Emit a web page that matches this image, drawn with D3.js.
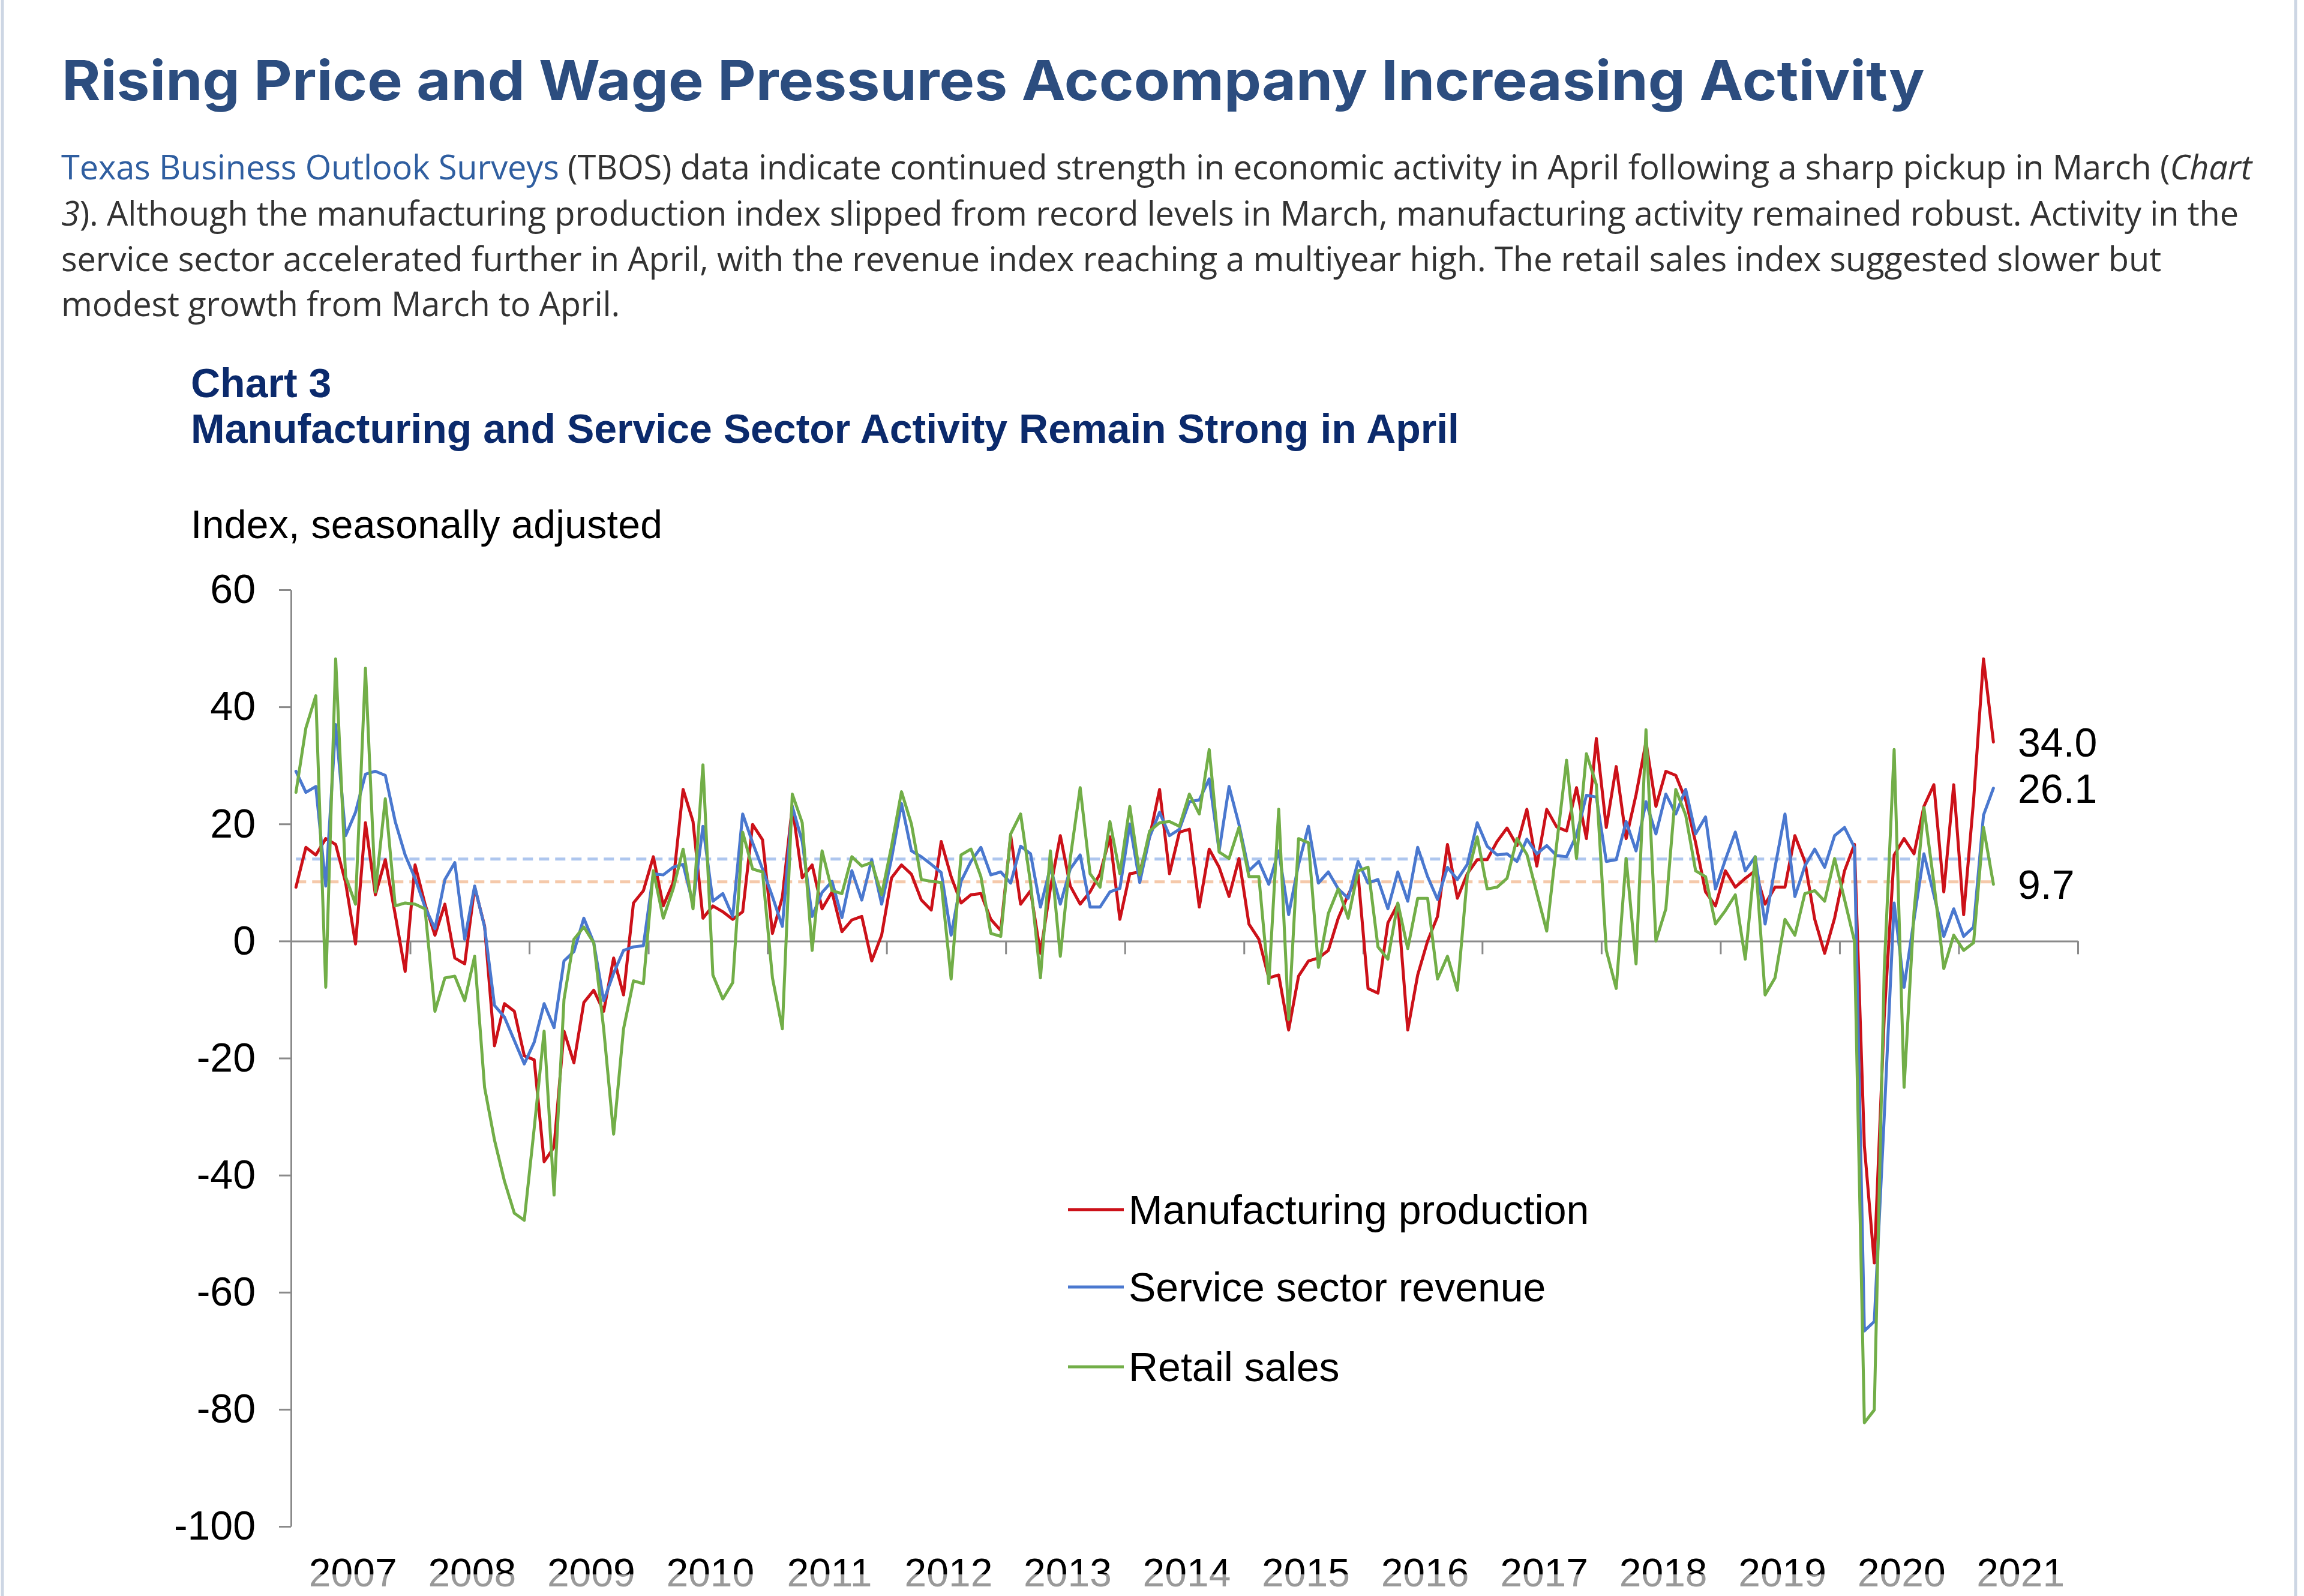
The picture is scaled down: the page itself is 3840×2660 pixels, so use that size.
<!DOCTYPE html>
<html><head><meta charset="utf-8">
<script src="https://cdn.jsdelivr.net/npm/d3@7"></script>
<style>html,body{margin:0;padding:0;background:#fff;} svg{display:block}</style>
</head><body>
<script>
// ---------- DATA ----------
const years = [2007,2008,2009,2010,2011,2012,2013,2014,2015,2016,2017,2018,2019,2020,2021];
const yTicks = [-100,-80,-60,-40,-20,0,20,40,60];
const seriesNames = ["Manufacturing production","Service sector revenue","Retail sales"];
const seriesColors = ["#cc1119","#4a78cf","#72ae48"];
// monthly values, Jan 2007 - Apr 2021
const manufacturing = [
9.2,16,14.7,17.5,16.5,10,-0.5,20.2,7.9,13.9,4.5,-5.2,
13,6.3,1,6.3,-2.9,-3.9,9.2,2.6,-17.9,-10.7,-12,-19.6,
-20.3,-37.7,-35.2,-15.4,-20.8,-10.5,-8.4,-12,-2.9,-9.2,6.5,8.6,
14.4,6,10,25.9,20.4,3.9,6,5,3.7,5,19.9,17.3,
1.3,7.5,23,10.8,13,5.5,8.4,1.6,3.6,4.2,-3.4,1,
10.8,13,11.4,7,5.3,17,11,6.5,7.9,8.1,3.7,1.8,
18,6.3,8.6,-2.1,9,18,9.4,6.3,8.4,11.5,17.8,3.7,
11.5,11.8,17.8,25.9,11.5,18.6,19.1,5.8,15.7,12.6,7.6,14.1,
2.9,0.3,-6.3,-5.8,-15.2,-6,-3.4,-2.9,-1.6,3.9,7.9,11.3,
-8.1,-8.9,3.1,6.3,-15.2,-5.8,0,4.2,16.5,7.3,11.5,13.9,
13.9,17,19.3,16.3,22.5,12.8,22.5,19.5,18.8,26.2,17.5,34.6,
19.4,29.8,17.5,25,34,23,29,28.3,24.1,16.8,8.4,6,
12,9.2,10.7,12,6.3,9.2,9.2,18,13.6,3.7,-2.1,3.9,
12,16.5,-35,-55,-13,14.7,17.5,14.9,23,26.7,8.4,26.7,
4.5,24,48.2,34.0
];
const service = [
29,25.4,26.4,9.4,37,18,22,28.5,29,28.3,20.4,14.7,
10.7,5.8,2.1,10.5,13.4,0.3,9.4,2.4,-11,-13,-17,-21,
-17.3,-10.7,-14.8,-3.4,-1.8,3.9,-0.3,-10.2,-5.5,-1.6,-1,-0.8,
11.5,11.3,12.6,13.1,6.3,19.6,6.8,8.1,4.2,21.7,16.8,12.3,
7.6,2.5,23,17,4.2,8.3,10.2,4,12,7,13.9,6.3,
14.1,23.5,15.4,14.4,13.1,11.7,1,10.2,13.6,16,11.3,11.8,
9.9,16.2,14.9,5.8,12.6,6.3,12.3,14.7,5.8,5.8,8.4,9,
20,10,17.8,22,18,19.1,23.8,24.1,27.7,15.4,26.4,19.9,
12,13.6,9.7,15.4,4.5,13.1,19.6,9.9,11.8,8.9,7.3,13.6,
9.9,10.5,5.5,11.8,6.8,16,11,7.1,12.6,10.5,13.1,20.2,
16.2,14.7,14.9,13.6,17.4,14.9,16.3,14.6,14.4,18.1,24.9,24.6,
13.6,13.9,20.4,15.4,23.8,18.3,25.1,21.7,25.9,18.3,21.2,8.9,
13.9,18.6,12,14.4,2.9,12.6,21.7,7.6,12.8,15.7,12.6,18,
19.4,16,-66.6,-65,-30,6.5,-7.9,3.7,14.9,7.9,0.8,5.5,
0.8,2.4,21.5,26.1
];
const retail = [
25.4,36.4,41.9,-7.9,48.2,11,6.3,46.6,8.4,24.3,6,6.5,
6.3,5.5,-12,-6.3,-6,-10.2,-2.6,-25,-34,-41,-46.5,-47.7,
-32,-15.4,-43.4,-10,0.3,2.4,-0.3,-15,-33,-15,-6.8,-7.3,
12,3.9,8.9,15.7,5.5,30.1,-5.8,-9.9,-7.1,18.6,12.3,11.8,
-6.3,-15,25.1,20.2,-1.6,15.4,8.6,8.1,14.4,12.8,13.4,7.9,
16.2,25.5,20,10.5,10.2,10,-6.5,14.7,15.7,11,1.3,0.8,
18.3,21.7,9.9,-6.3,15.4,-2.6,14.1,26.2,11.5,9.2,20.4,11.5,
23,11.3,18.8,20.2,20.4,19.6,25.1,21.7,32.7,15.2,14.1,19.4,
11,11,-7.3,22.5,-13.4,17.5,16.8,-4.5,4.7,8.9,3.9,12,
12.6,-1,-3.1,6.5,-1.3,7.3,7.3,-6.5,-2.6,-8.4,11,17.8,
8.9,9.2,10.7,17.5,14.8,8.2,1.7,16.5,30.9,14.1,32,26.7,
-1.6,-8.1,14.1,-3.9,36.1,0,5.5,25.9,21.5,12,11,2.9,
5.2,7.9,-3.1,14.4,-9.2,-6.3,3.7,1,8.1,8.6,6.8,14.1,
7.1,0,-82.3,-80.1,-5,32.7,-25,5,22.8,10,-4.7,1,
-1.6,-0.3,19.4,9.7
];
// long-run averages (dashed reference lines)
const avgService = 14.0;
const avgManufacturing = 10.1;
const avgColors = ["#aec6ee","#f5c9aa"];

// ---------- LAYOUT ----------
const W = 3840, H = 2660;
const svg = d3.select("body").append("svg").attr("width", W).attr("height", H);
svg.append("rect").attr("width", W).attr("height", H).attr("fill", "#fff");
// page borders
svg.append("line").attr("x1",4).attr("x2",4).attr("y1",0).attr("y2",H).attr("stroke","#cdd6e4").attr("stroke-width",5);
svg.append("line").attr("x1",3826).attr("x2",3826).attr("y1",0).attr("y2",H).attr("stroke","#cdd6e4").attr("stroke-width",5);

function fitWidth(sel, target) {
  const n = sel.node();
  const w = n.getComputedTextLength();
  const chars = n.textContent.length;
  sel.attr("letter-spacing", ((target - w) / chars).toFixed(3));
}
function stretchWidth(sel, x, y, target) {
  const w = sel.node().getComputedTextLength();
  sel.attr("x", 0).attr("y", 0)
     .attr("transform", `translate(${x},${y}) scale(${(target / w).toFixed(4)},1)`);
}

// Heading (wide geometric face: stretch horizontally to the measured width)
const h1 = svg.append("text")
  .attr("font-family", "Inter, 'Open Sans', sans-serif").attr("font-weight", 700)
  .attr("font-size", 92).attr("fill", "#2c4d7f")
  .text("Rising Price and Wage Pressures Accompany Increasing Activity");
stretchWidth(h1, 103, 167, 3105);

// Body paragraph
const bodyFont = "'Open Sans', sans-serif";
const bodyLines = [
  {y: 299, w: 3651, parts: [
    {t: "Texas Business Outlook Surveys", c: "#2f5ea0"},
    {t: " (TBOS) data indicate continued strength in economic activity in April following a sharp pickup in March ("},
    {t: "Chart", i: true}]},
  {y: 376, w: 3629, parts: [
    {t: "3", i: true},
    {t: "). Although the manufacturing production index slipped from record levels in March, manufacturing activity remained robust. Activity in the"}]},
  {y: 452, w: 3500, parts: [
    {t: "service sector accelerated further in April, with the revenue index reaching a multiyear high. The retail sales index suggested slower but"}]},
  {y: 527, w: 931, parts: [{t: "modest growth from March to April."}]}
];
bodyLines.forEach(L => {
  const t = svg.append("text").attr("x", 102).attr("y", L.y)
    .attr("font-family", bodyFont).attr("font-size", 56).attr("fill", "#333333");
  L.parts.forEach(p => {
    t.append("tspan").text(p.t)
      .attr("fill", p.c || "#333333")
      .attr("font-style", p.i ? "italic" : "normal");
  });
  fitWidth(t, L.w);
});

// Chart titles
const chartFont = "'Liberation Sans', Arial, sans-serif";
svg.append("text").attr("x", 318).attr("y", 662).attr("font-family", chartFont)
  .attr("font-weight", 700).attr("font-size", 68).attr("fill", "#0b2a6c").text("Chart 3");
const sub = svg.append("text").attr("x", 318).attr("y", 738).attr("font-family", chartFont)
  .attr("font-weight", 700).attr("font-size", 68).attr("fill", "#0b2a6c")
  .text("Manufacturing and Service Sector Activity Remain Strong in April");
fitWidth(sub, 2114);
const unit = svg.append("text").attr("x", 318).attr("y", 897).attr("font-family", chartFont)
  .attr("font-size", 66).attr("fill", "#000").text("Index,  seasonally  adjusted");
fitWidth(unit, 787);

// ---------- SCALES ----------
const nMonths = years.length * 12;
const months = d3.range(nMonths);
const xBand = d3.scaleBand().domain(months).range([485, 3463]);
const xc = i => xBand(i) + xBand.bandwidth() / 2;
const xEdge = d3.scaleLinear().domain([0, nMonths]).range([485, 3463]);
const y = d3.scaleLinear().domain([-100, 60]).range([2544, 983]);

const axisColor = "#8a8a8a";

// Y axis
const gy = svg.append("g").attr("transform", "translate(485,0)")
  .call(d3.axisLeft(y).tickValues(yTicks).tickSize(20).tickSizeOuter(0).tickPadding(39).tickFormat(d => String(d)));
gy.select(".domain").attr("stroke", axisColor).attr("stroke-width", 3);
gy.selectAll(".tick line").attr("stroke", axisColor).attr("stroke-width", 3);
gy.selectAll(".tick text").attr("font-family", chartFont).attr("font-size", 68).attr("fill", "#000");

// Dashed average lines
const lineGen = d3.line().x(d => xc(d[0])).y(d => y(d[1]));
const lastIdx = manufacturing.length - 1;
[[avgService, avgColors[0]], [avgManufacturing, avgColors[1]]].forEach(([v, c]) => {
  svg.append("path").attr("d", lineGen([[0, v], [lastIdx, v]]))
    .attr("fill", "none").attr("stroke", c).attr("stroke-width", 5).attr("stroke-dasharray", "17,10");
});

// X axis at zero
const gx = svg.append("g").attr("transform", `translate(0,${y(0)})`)
  .call(d3.axisBottom(xEdge).tickValues(d3.range(0, nMonths + 1, 12)).tickSize(22).tickSizeOuter(0).tickFormat(""));
gx.select(".domain").attr("stroke", axisColor).attr("stroke-width", 3);
gx.selectAll(".tick line").attr("stroke", axisColor).attr("stroke-width", 3);

// Year labels
svg.append("g").selectAll("text").data(years).join("text")
  .attr("x", (d, k) => xEdge(k * 12 + 6) + 4).attr("y", 2644)
  .attr("text-anchor", "middle").attr("font-family", chartFont).attr("font-size", 66).attr("fill", "#000")
  .text(d => d);

// Series
const series = [manufacturing, service, retail];
series.forEach((s, k) => {
  svg.append("path").datum(s.map((v, i) => [i, v]))
    .attr("d", lineGen).attr("fill", "none")
    .attr("stroke", seriesColors[k]).attr("stroke-width", 5)
    .attr("stroke-linejoin", "round").attr("stroke-linecap", "round");
});

// End-value labels
series.forEach((s, k) => {
  svg.append("text").attr("x", 3363).attr("y", y(s[s.length - 1]))
    .attr("dominant-baseline", "central").attr("font-family", chartFont)
    .attr("font-size", 68).attr("fill", "#000").text(d3.format(".1f")(s[s.length - 1]));
});

// Legend
const legendY = [2016, 2145, 2278];
seriesNames.forEach((name, k) => {
  svg.append("line").attr("x1", 1780).attr("x2", 1873).attr("y1", legendY[k]).attr("y2", legendY[k])
    .attr("stroke", seriesColors[k]).attr("stroke-width", 5);
  svg.append("text").attr("x", 1881).attr("y", legendY[k]).attr("dominant-baseline", "central")
    .attr("font-family", chartFont).attr("font-size", 68).attr("fill", "#000").text(name);
});

// faded strip at the very bottom (as in the screenshot)
svg.append("rect").attr("x", 400).attr("y", 2624).attr("width", 3200).attr("height", 36)
  .attr("fill", "#fff").attr("opacity", 0.6);
</script>
</body></html>
